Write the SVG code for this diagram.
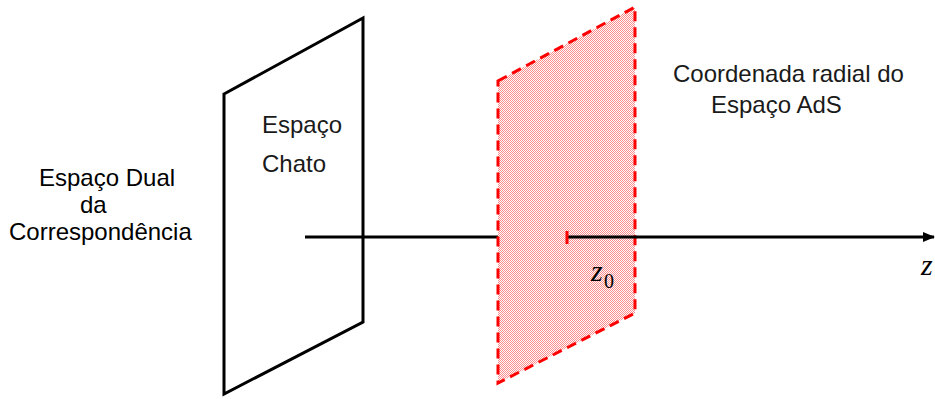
<svg xmlns="http://www.w3.org/2000/svg" width="935" height="399" viewBox="0 0 935 399">
  <style>
    .lbl { font-family: "Liberation Sans", Arial, sans-serif; font-size: 24px; fill: #000; }
    .lbl2 { font-family: "Liberation Sans", Arial, sans-serif; font-size: 24px; fill: #1a1a1a; }
    .math { font-family: "Liberation Serif", "DejaVu Serif", serif; fill: #000; }
    .axis { stroke: #000; stroke-width: 3; fill: none; }
  </style>
  <defs>
    <pattern id="dots" width="2" height="2" patternUnits="userSpaceOnUse">
      <rect width="2" height="2" fill="#fff"/>
      <rect x="0" y="0" width="1" height="1" fill="#ff8c8c"/>
      <rect x="1" y="1" width="1" height="1" fill="#ff8c8c"/>
    </pattern>
    <marker id="arrow" markerWidth="12" markerHeight="10" refX="11" refY="5" orient="auto" markerUnits="userSpaceOnUse">
      <path d="M0,0 L12,5 L0,10 Z" fill="#000"/>
    </marker>
  </defs>

  <g id="flat-plane">
    <polygon points="224,94 363,18 363,322 224,394" fill="#fff" stroke="#000" stroke-width="3" stroke-linejoin="miter"/>
  </g>

  <g id="connectors-back">
    <line class="axis" x1="305" y1="237" x2="498" y2="237"/>
  </g>

  <g id="ads-plane">
    <polygon points="498,81 635,7 635,313 498,383" fill="url(#dots)" stroke="#ff0000" stroke-width="3" stroke-dasharray="10,6"/>
  </g>

  <g id="connectors">
    <line class="axis" x1="568" y1="237" x2="934" y2="237" marker-end="url(#arrow)"/>
    <line x1="567" y1="231" x2="567" y2="244" stroke="#ff0000" stroke-width="3"/>
  </g>

  <g id="label-dual">
    <text class="lbl" x="39" y="186">Espaço Dual</text>
    <text class="lbl" x="80" y="213">da</text>
    <text class="lbl" x="9" y="240">Correspondência</text>
  </g>

  <g id="label-chato">
    <text class="lbl2" x="262" y="133">Espaço</text>
    <text class="lbl2" x="262" y="172">Chato</text>
  </g>

  <g id="label-radial">
    <text class="lbl2" x="673" y="82">Coordenada radial do</text>
    <text class="lbl2" x="711" y="113">Espaço AdS</text>
  </g>

  <g id="label-z0">
    <text class="math" x="591" y="281" font-size="30" font-style="italic">z</text>
    <text class="math" x="604" y="288" font-size="20">0</text>
  </g>

  <g id="label-z">
    <text class="math" x="921" y="275" font-size="30" font-style="italic">z</text>
  </g>
</svg>
